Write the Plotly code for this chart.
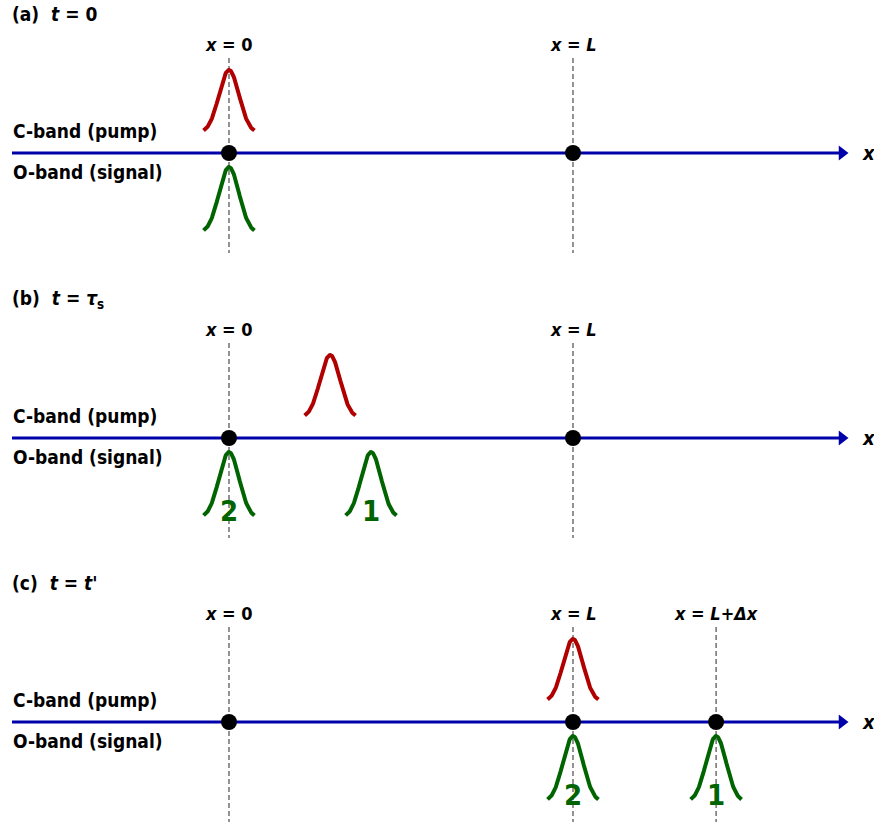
import numpy as np
import plotly.graph_objects as go

# ---------------- data ----------------
panel_tags = ["(a)", "(b)", "(c)"]
panel_times = ["<i>t</i> = 0", "<i>t</i> = <i>τ</i><sub>s</sub>", "<i>t</i> = <i>t</i>'"]
pump_centers = [0.0, 0.294, 1.0]                      # in units of L
signal_centers = [[0.0], [0.0, 0.413], [1.0, 1.416]]  # in units of L
signal_labels = [[""], ["2", "1"], ["2", "1"]]
marker_positions = [[0.0, 1.0], [0.0, 1.0], [0.0, 1.0, 1.416]]
ref_positions = [[0.0, 1.0], [0.0, 1.0], [0.0, 1.0, 1.416]]
ref_labels = [["<i>x</i> = 0", "<i>x</i> = <i>L</i>"],
              ["<i>x</i> = 0", "<i>x</i> = <i>L</i>"],
              ["<i>x</i> = 0", "<i>x</i> = <i>L</i>", "<i>x</i> = <i>L</i>+<i>Δx</i>"]]
band_labels = ["C-band (pump)", "O-band (signal)"]

# ---------------- style ----------------
W, H = 874, 824
PX_PER_L = 344.0
X0_PX = 229.0
axis_px = [153, 438, 722]
Y_BELOW, Y_ABOVE = 100, 150
RED, GREEN, BLUE = "#b00000", "#006400", "#0000aa"
FONT = "DejaVu Sans Condensed, DejaVu Sans"
sigma = 0.029
half = 2.55 * sigma
pump_base, pump_h = 20, 63
sig_base, sig_h = -80, 66

xr = [-X0_PX / PX_PER_L, (W - X0_PX) / PX_PER_L]
x_start = (12 - X0_PX) / PX_PER_L
x_tip = (848 - X0_PX) / PX_PER_L

fig = go.Figure()
layout = dict(width=W, height=H, margin=dict(l=0, r=0, t=0, b=0),
              paper_bgcolor="white", plot_bgcolor="white", showlegend=False,
              font=dict(family=FONT, color="black"))
annotations = []

u = np.linspace(-half, half, 121)
g = np.exp(-u**2 / (2 * sigma**2))

for i in range(3):
    sfx = "" if i == 0 else str(i + 1)
    xa, ya = "x" + sfx, "y" + sfx
    top = axis_px[i] - Y_ABOVE
    bot = axis_px[i] + Y_BELOW
    layout["xaxis" + sfx] = dict(range=xr, domain=[0, 1], visible=False, fixedrange=True,
                                 anchor=ya)
    layout["yaxis" + sfx] = dict(range=[-Y_BELOW, Y_ABOVE], domain=[1 - bot / H, 1 - top / H],
                                 visible=False, fixedrange=True, anchor=xa)
    # dashed reference lines
    for p in ref_positions[i]:
        fig.add_trace(go.Scatter(x=[p, p], y=[95, -100], mode="lines", xaxis=xa, yaxis=ya,
                                 line=dict(color="#5a5a5a", width=1.3, dash="5px,3px"),
                                 hoverinfo="skip"))
    for p, lab in zip(ref_positions[i], ref_labels[i]):
        annotations.append(dict(x=p, y=109, xref=xa, yref=ya, text="<b>" + lab + "</b>",
                                showarrow=False, font=dict(size=18, family=FONT)))
    # axis arrow: shaft + head
    fig.add_trace(go.Scatter(x=[x_start, x_tip - 8 / PX_PER_L], y=[0, 0], mode="lines",
                             xaxis=xa, yaxis=ya, line=dict(color=BLUE, width=3),
                             hoverinfo="skip"))
    fig.add_trace(go.Scatter(x=[x_tip - 6 / PX_PER_L], y=[0], mode="markers",
                             xaxis=xa, yaxis=ya,
                             marker=dict(symbol="triangle-right", size=13, color=BLUE,
                                         line=dict(width=0)),
                             hoverinfo="skip"))
    annotations.append(dict(x=(869 - X0_PX) / PX_PER_L, y=0, xref=xa, yref=ya,
                            text="<b><i>x</i></b>", showarrow=False,
                            font=dict(size=20, family=FONT)))
    # pump pulse
    fig.add_trace(go.Scatter(x=pump_centers[i] + u, y=pump_base + pump_h * g, mode="lines",
                             xaxis=xa, yaxis=ya, line=dict(color=RED, width=4),
                             hoverinfo="skip"))
    # signal pulses
    for c, lab in zip(signal_centers[i], signal_labels[i]):
        fig.add_trace(go.Scatter(x=c + u, y=sig_base + sig_h * g, mode="lines",
                                 xaxis=xa, yaxis=ya, line=dict(color=GREEN, width=4),
                                 hoverinfo="skip"))
        if lab:
            annotations.append(dict(x=c, y=-73, xref=xa, yref=ya, text="<b>" + lab + "</b>",
                                    showarrow=False, font=dict(size=29, color=GREEN, family=FONT)))
    # markers
    fig.add_trace(go.Scatter(x=marker_positions[i], y=[0] * len(marker_positions[i]),
                             mode="markers", xaxis=xa, yaxis=ya,
                             marker=dict(color="black", size=16), hoverinfo="skip"))
    # band labels
    annotations.append(dict(x=11 / W, y=22, xref="paper", yref=ya, text="<b>" + band_labels[0] + "</b>",
                            showarrow=False, xanchor="left", font=dict(size=19, family=FONT)))
    annotations.append(dict(x=11 / W, y=-19, xref="paper", yref=ya, text="<b>" + band_labels[1] + "</b>",
                            showarrow=False, xanchor="left", font=dict(size=19, family=FONT)))
    # panel title
    annotations.append(dict(x=10 / W, y=139, xref="paper", yref=ya,
                            text="<b>" + panel_tags[i] + "  " + panel_times[i] + "</b>",
                            showarrow=False, xanchor="left", font=dict(size=19, family=FONT)))

layout["annotations"] = annotations
fig.update_layout(**layout)
fig.write_html("out.html")
